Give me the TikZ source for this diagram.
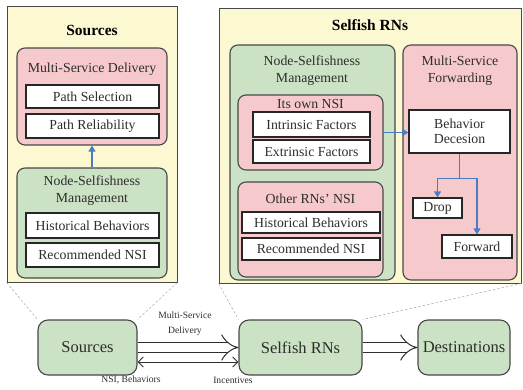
\documentclass[tikz,border=0pt]{standalone}
\usepackage{fontspec}
\setmainfont{Liberation Serif}
\usetikzlibrary{arrows.meta,calc}

\definecolor{panelyellow}{RGB}{252,248,210}
\definecolor{boxpink}{RGB}{246,202,204}
\definecolor{boxgreen}{RGB}{203,226,196}
\definecolor{flowblue}{RGB}{74,124,192}
\definecolor{edgegray}{RGB}{72,72,72}
\definecolor{inkgray}{RGB}{45,45,45}

\tikzset{
  panel/.style={draw=edgegray, line width=0.9pt, fill=panelyellow},
  group/.style={draw=edgegray, line width=1.1pt, rounded corners=8pt},
  pinkgroup/.style={group, fill=boxpink},
  greengroup/.style={group, fill=boxgreen},
  item/.style={draw=black!85, line width=1.2pt, fill=white, inner sep=0pt,
    text=inkgray, font=\fontsize{13.8}{16}\selectfont, align=center},
  label/.style={text=inkgray, font=\fontsize{13.8}{17}\selectfont, align=center, inner sep=0pt},
  title/.style={text=black, font=\fontsize{15.5}{18}\selectfont\bfseries, inner sep=0pt},
  entity/.style={draw=edgegray, line width=1.1pt, fill=boxgreen, rounded corners=10pt,
    minimum height=55pt, text=inkgray, font=\fontsize{16.5}{19}\selectfont},
  flow/.style={flowblue, line width=1.2pt, -{Triangle[length=6pt,width=7pt]}},
  flowline/.style={flowblue, line width=1.2pt},
  channel/.style={draw=inkgray, line width=1pt, double=white, double distance=8.5pt,
    -{Implies}},
  exchange/.style={draw=inkgray, line width=1pt,
    {Straight Barb[length=5pt,width=10pt]}-{Straight Barb[length=5pt,width=10pt]}},
  small/.style={text=inkgray, font=\fontsize{9.6}{15}\selectfont, align=center, inner sep=0pt},
  guide/.style={draw=gray!70, line width=0.5pt, dash pattern=on 2.5pt off 2pt},
}

\begin{document}
\begin{tikzpicture}[x=1pt, y=-1pt]
\useasboundingbox (0,0) rectangle (523,389);

% ---------- Sources panel ----------
\node[panel, minimum width=170pt, minimum height=276pt] (srcpanel) at (92,144) {};
\node[title] (srctitle) at (92,30) {Sources};

\node[pinkgroup, minimum width=150pt, minimum height=97pt] (srcmsd) at (92,96.5) {};
\node[label] (srcmsdlabel) at (92,69) {Multi-Service Delivery};
\node[item, minimum width=133pt, minimum height=23pt] (pathsel) at (92.5,96.5) {Path Selection};
\node[item, minimum width=133pt, minimum height=24pt] (pathrel) at (92.5,126) {Path Reliability};

\node[greengroup, minimum width=150pt, minimum height=110pt] (srcnsm) at (92,223) {};
\node[label] (srcnsmlabel) at (92,191) {Node-Selfishness\\Management};
\node[item, minimum width=133pt, minimum height=25pt] (srchist) at (92.5,225.5) {Historical Behaviors};
\node[item, minimum width=133pt, minimum height=24pt] (srcrec) at (92.5,255) {Recommended NSI};

\draw[flow] (srcnsm.north) -- (srcmsd.south);

% ---------- Selfish RNs panel ----------
\node[panel, minimum width=302pt, minimum height=275pt] (rnspanel) at (370,145.5) {};
\node[title] (rnstitle) at (370,25) {Selfish RNs};

\node[greengroup, minimum width=165pt, minimum height=235pt] (rnsnsm) at (312.5,162.5) {};
\node[label] (rnsnsmlabel) at (312,71) {Node-Selfishness\\Management};

\node[pinkgroup, minimum width=145pt, minimum height=75pt] (ownnsi) at (310.5,132.5) {};
\node[label] (ownnsilabel) at (310.5,104) {Its own NSI};
\node[item, minimum width=117pt, minimum height=25pt] (intr) at (311.5,124.5) {Intrinsic Factors};
\node[item, minimum width=117pt, minimum height=23pt] (extr) at (311.5,151.5) {Extrinsic Factors};

\node[pinkgroup, minimum width=145pt, minimum height=95pt] (othnsi) at (310.5,229.5) {};
\node[label] (othnsilabel) at (310.5,199) {Other RNs’ NSI};
\node[item, minimum width=138pt, minimum height=21pt] (rhist) at (311,222.5) {Historical Behaviors};
\node[item, minimum width=138pt, minimum height=22pt] (rrec) at (311,249) {Recommended NSI};

\node[pinkgroup, minimum width=114pt, minimum height=235pt] (msf) at (460,162.5) {};
\node[label] (msflabel) at (460,71) {Multi-Service\\Forwarding};
\node[item, minimum width=101pt, minimum height=43pt] (behdec) at (459.5,131.5) {Behavior\\[-1pt]Decesion};
\node[item, minimum width=49pt, minimum height=20pt] (drop) at (437.5,208) {Drop};
\node[item, minimum width=70pt, minimum height=23pt] (fwd) at (477,246.5) {Forward};

\draw[flow] (ownnsi.east) -- (ownnsi.east -| behdec.west);
\coordinate (split) at ($(behdec.south)+(0,25)$);
\draw[flowline] (behdec.south) -- (split);
\draw[flow] (split) -| (drop.north);
\draw[flow] (split) -| (fwd.north);

% ---------- overview row ----------
\node[entity, minimum width=99pt] (bsrc) at (87.5,347.5) {Sources};
\node[entity, minimum width=123pt] (brns) at (300.5,347.5) {Selfish RNs};
\node[entity, minimum width=92pt] (bdst) at (464,347.5) {Destinations};

\draw[channel] (bsrc.east) -- (brns.west);
\draw[channel] (brns.east) -- (bdst.west);
\draw[exchange] ([yshift=-14.5pt]bsrc.east) -- ([yshift=-14.5pt]brns.west);

\node[small] (deliverylabel) at (185,324) {Multi-Service\\Delivery};
\node[small] (nsilabel) at (131,380) {NSI, Behaviors};
\node[small] (incentlabel) at (233,380) {Incentives};

% zoom guides from each overview node to its panel
\draw[guide] (srcpanel.south west) -- (bsrc.north west);
\draw[guide] (srcpanel.south east) -- (bsrc.north east);
\draw[guide] (rnspanel.south west) -- (brns.north west);
\draw[guide] (rnspanel.south east) -- (brns.north east);
\end{tikzpicture}
\end{document}
